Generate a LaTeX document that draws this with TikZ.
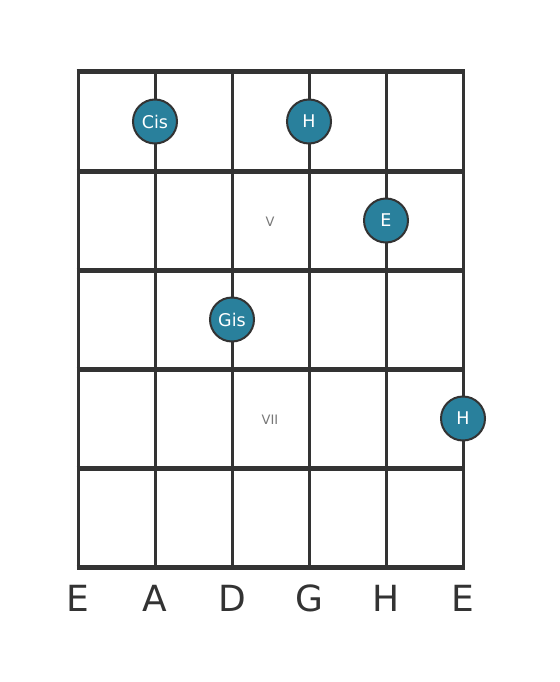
\documentclass[tikz,border=0pt]{standalone}
\usepackage{fontspec}
\setmainfont{DejaVu Sans}
\definecolor{linegray}{HTML}{333333}
\definecolor{noteteal}{HTML}{29809C}
\definecolor{markgray}{HTML}{777777}
\tikzset{
  fretline/.style={draw=linegray, line width=5pt},
  stringline/.style={draw=linegray, line width=3pt},
  note/.style={circle, draw=linegray, line width=2pt, fill=noteteal, minimum size=44pt, inner sep=0pt, text=white, font=\fontsize{17.5}{17.5}\selectfont},
  stringname/.style={text=linegray, font=\fontsize{36}{36}\selectfont},
  fretmark/.style={text=markgray, font=\fontsize{13}{13}\selectfont}
}
\begin{document}
\begin{tikzpicture}[x=1pt,y=-1pt]
        \useasboundingbox (0,0) rectangle (559,682);

        % strings
        \draw[stringline] (78,72) -- (78,567);
        \draw[stringline] (155,72) -- (155,567);
        \draw[stringline] (232,72) -- (232,567);
        \draw[stringline] (309,72) -- (309,567);
        \draw[stringline] (386,72) -- (386,567);
        \draw[stringline] (463,72) -- (463,567);

        % frets
        \draw[fretline] (76.5,72) -- (464.5,72);
        \draw[fretline] (76.5,171) -- (464.5,171);
        \draw[fretline] (76.5,270) -- (464.5,270);
        \draw[fretline] (76.5,369) -- (464.5,369);
        \draw[fretline] (76.5,468) -- (464.5,468);
        \draw[fretline] (76.5,567) -- (464.5,567);

        % position marks
        \node[fretmark] (markv) at (270,221.5) {V};
        \node[fretmark] (markvii) at (270,419.5) {VII};

        % notes
        \node[note] (cis) at (155,121.5) {Cis};
        \node[note] (hone) at (309,121.5) {H};
        \node[note] (e) at (386,220.5) {E};
        \node[note] (gis) at (232,319.5) {Gis};
        \node[note] (htwo) at (463,418.5) {H};

        % string names
        \node[stringname] (lowe) at (78,598) {E};
        \node[stringname] (a) at (155,598) {A};
        \node[stringname] (d) at (232,598) {D};
        \node[stringname] (g) at (309,598) {G};
        \node[stringname] (h) at (386,598) {H};
        \node[stringname] (highe) at (463,598) {E};
\end{tikzpicture}
\end{document}
